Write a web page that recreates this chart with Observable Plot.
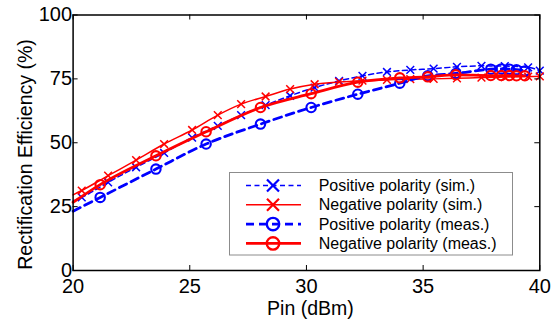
<!DOCTYPE html>
<html><head><meta charset="utf-8">
<script src="https://cdn.jsdelivr.net/npm/d3@7"></script>
<script src="https://cdn.jsdelivr.net/npm/@observablehq/plot@0.6"></script>
<style>
body{margin:0;background:#fff}
#wrap{position:relative;width:556px;height:320px;font-family:Arial,"Liberation Sans",sans-serif}
#legend{position:absolute;left:229px;top:172px}
</style>
</head><body><div id="wrap"></div>
<script>
// ---- data ----
const xTicks = [20, 25, 30, 35, 40];
const yTicks = [0, 25, 50, 75, 100];
const lineStartX = 20;

const xSim = [20.37, 21.5, 22.7, 23.9, 25.1, 26.2, 27.2, 28.25, 29.3, 30.35, 31.4, 32.4, 33.45, 34.45, 35.45, 36.45, 37.5, 38.5, 39.5, 40];
const posSim = [28.6, 34.5, 40.4, 46.0, 52.0, 56.6, 60.8, 64.7, 68.4, 71.6, 74.2, 76.2, 77.7, 78.5, 79.0, 79.7, 80.1, 80.0, 79.5, 78.2];
const negSim = [31.3, 37.1, 43.2, 49.5, 55.0, 60.8, 65.1, 68.1, 71.0, 72.9, 73.8, 74.3, 74.6, 74.9, 75.0, 75.2, 75.5, 75.7, 75.9, 76.0];
const posSimStart = 27.1;
const negSimStart = 29.6;

const xMeas = [21.16, 23.55, 25.7, 28.03, 30.2, 32.2, 34.0, 35.2, 36.4, 37.9, 38.35, 38.7, 39.0, 39.36];
const posMeas = [28.6, 39.7, 49.5, 57.3, 63.8, 69.0, 73.3, 76.2, 77.1, 78.8, 78.9, 78.8, 78.6, 78.1];
const negMeas = [33.6, 44.9, 54.3, 63.8, 69.2, 73.7, 75.4, 75.8, 76.6, 76.3, 76.3, 76.3, 76.2, 76.2];
const posMeasStart = 23.2;
const negMeasStart = 26.7;

const seriesNames = ["Positive polarity (sim.)", "Negative polarity (sim.)", "Positive polarity (meas.)", "Negative polarity (meas.)"];
const xLabel = "Pin (dBm)";
const yLabel = "Rectification Efficiency (%)";

// ---- styles ----
const BLUE = "#0000ff", RED = "#ff0000";
const series = [
  {name: seriesNames[0], x: xSim, y: posSim, start: posSimStart, color: BLUE, dash: "5,3.5", width: 1.5, symbol: "times", r: 3.6, mw: 1.5},
  {name: seriesNames[1], x: xSim, y: negSim, start: negSimStart, color: RED, dash: null, width: 1.5, symbol: "times", r: 3.6, mw: 1.5},
  {name: seriesNames[2], x: xMeas, y: posMeas, start: posMeasStart, color: BLUE, dash: "8,5", width: 2.8, symbol: "circle", r: 4.7, mw: 2.1},
  {name: seriesNames[3], x: xMeas, y: negMeas, start: negMeasStart, color: RED, dash: null, width: 2.8, symbol: "circle", r: 4.7, mw: 2.1}
];

const marks = [];
for (const s of series) {
  const line = [{x: lineStartX, y: s.start}, ...s.x.map((x, i) => ({x, y: s.y[i]}))];
  const pts = s.x.map((x, i) => ({x, y: s.y[i]}));
  marks.push(Plot.line(line, {x: "x", y: "y", stroke: s.color, strokeWidth: s.width, strokeDasharray: s.dash, curve: "monotone-x"}));
  marks.push(Plot.dot(pts, {x: "x", y: "y", symbol: s.symbol, r: s.r, stroke: s.color, strokeWidth: s.mw, fill: "none"}));
}

const chart = Plot.plot({
  width: 556, height: 320,
  marginLeft: 72.6, marginRight: 16.7, marginTop: 14.5, marginBottom: 50,
  style: {fontFamily: 'Arial, "Liberation Sans", sans-serif', background: "white", color: "black"},
  x: {domain: [20, 40]},
  y: {domain: [0, 100]},
  marks: [
    ...marks,
    Plot.frame({stroke: "black", strokeWidth: 1.5}),
    Plot.ruleX(xTicks, {x: d => d, y1: 0, y2: 0, insetTop: -5, stroke: "black"}),
    Plot.ruleX(xTicks, {x: d => d, y1: 100, y2: 100, insetBottom: -5, stroke: "black"}),
    Plot.ruleY(yTicks, {y: d => d, x1: 20, x2: 20, insetRight: -5, stroke: "black"}),
    Plot.ruleY(yTicks, {y: d => d, x1: 40, x2: 40, insetLeft: -5, stroke: "black"}),
    Plot.axisX({ticks: xTicks, tickSize: 0, tickPadding: 8, fontSize: 20, label: null}),
    Plot.axisY({ticks: yTicks, tickSize: 0, tickPadding: 1, fontSize: 20, label: null}),
    Plot.text([xLabel], {frameAnchor: "bottom", dx: 4, dy: 44, lineAnchor: "bottom", fontSize: 19.5, fill: "black"}),
    Plot.text([yLabel], {frameAnchor: "left", rotate: -90, dx: -41.6, dy: 11.75, lineAnchor: "bottom", textAnchor: "middle", fontSize: 19.5, fill: "black"})
  ]
});
document.getElementById("wrap").appendChild(chart);

// ---- legend overlay ----
const lg = d3.select("#wrap").append("svg").attr("id", "legend").attr("width", 285).attr("height", 84);
lg.append("rect").attr("x", 0.5).attr("y", 0.5).attr("width", 283).attr("height", 82.5)
  .attr("fill", "white").attr("stroke", "#8c8c8c").attr("stroke-width", 1);
series.forEach((s, i) => {
  const cy = 13.5 + 19.3 * i;
  const g = lg.append("g");
  g.append("line").attr("x1", 17).attr("x2", 72).attr("y1", cy).attr("y2", cy)
    .attr("stroke", s.color).attr("stroke-width", s.width).attr("stroke-dasharray", s.dash);
  if (s.symbol === "times") {
    const k = 6;
    g.append("path").attr("d", `M${44 - k},${cy - k}L${44 + k},${cy + k}M${44 - k},${cy + k}L${44 + k},${cy - k}`)
      .attr("stroke", s.color).attr("stroke-width", 2.2).attr("fill", "none");
  } else {
    g.append("circle").attr("cx", 44).attr("cy", cy).attr("r", 6.2)
      .attr("stroke", s.color).attr("stroke-width", 2.4).attr("fill", "none");
  }
  g.append("text").attr("x", 89.7).attr("y", cy + 5.6).attr("font-size", 16)
    .attr("font-family", 'Arial, "Liberation Sans", sans-serif').attr("fill", "black").text(s.name);
});
</script>
</body></html>
